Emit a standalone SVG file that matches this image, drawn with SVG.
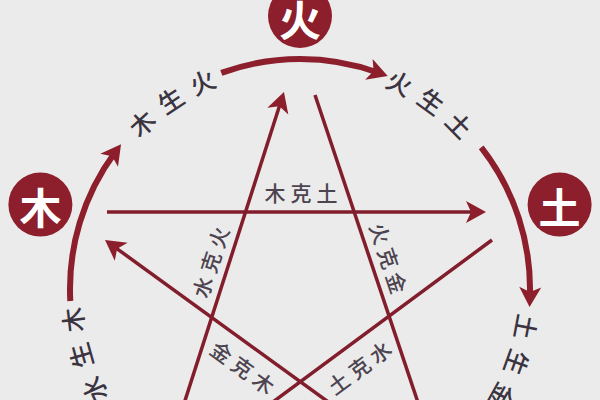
<svg xmlns="http://www.w3.org/2000/svg" width="600" height="400" viewBox="0 0 600 400">
<defs>
<style>
.bg{fill:#ebebeb}
.node circle{fill:#8c1f2b}
.node text{fill:#ffffff;font-family:"Noto Sans CJK SC","Noto Sans",sans-serif;font-size:42px;font-weight:700;text-anchor:middle;dominant-baseline:central}
.arc{fill:none;stroke:#8c1f2b;stroke-width:6}
.star{fill:none;stroke:#821d2c;stroke-width:3.5}
.sl{fill:#4d4450;font-family:"Noto Sans CJK SC","Noto Sans",sans-serif;font-size:21px;font-weight:500;letter-spacing:5px;text-anchor:middle;dominant-baseline:central}
.ol{fill:#3a3340;font-family:"Noto Sans CJK SC","Noto Sans",sans-serif;font-size:25px;font-weight:500;letter-spacing:10px;text-anchor:middle}
</style>
<marker id="ah" markerUnits="userSpaceOnUse" markerWidth="40" markerHeight="40" refX="0" refY="0" orient="auto" overflow="visible" viewBox="-20 -20 40 40">
<path d="M10,0 L-10,-11 L-5,0 L-10,11 Z" fill="#8c1f2b"/>
</marker>
<path id="ring" d="M300,508 A219,219 0 1 1 300,70 A219,219 0 1 1 300,508"/>
</defs>
<rect class="bg" x="0" y="0" width="600" height="400"/>
<g id="connectors">
<path class="arc" d="M70.3,301 A230,230 0 0 1 115.1,152.2" marker-end="url(#ah)"/>
<path class="arc" d="M221.3,72.9 A230,230 0 0 1 378.3,72.7" marker-end="url(#ah)"/>
<path class="arc" d="M481.2,147.4 A230,230 0 0 1 529.9,297" marker-end="url(#ah)"/>
<line class="star" x1="107" y1="212" x2="476" y2="212" marker-end="url(#ah)"/>
<line class="star" x1="182" y1="410" x2="280.9" y2="101.5" marker-end="url(#ah)"/>
<line class="star" x1="315" y1="95" x2="420.5" y2="410"/>
<line class="star" x1="492" y1="240" x2="264.8" y2="408"/>
<line class="star" x1="336.6" y1="408" x2="113.1" y2="245.9" marker-end="url(#ah)"/>
</g>
<g id="labels">
<text class="sl" x="303.5" y="192">木克土</text>
<text class="sl" transform="translate(210,262) rotate(-72)" x="2.5" y="0">水克火</text>
<text class="sl" transform="translate(389,258) rotate(71.5)" x="2.5" y="0">火克金</text>
<text class="sl" transform="translate(359,367) rotate(-36.5)" x="2.5" y="0">土克水</text>
<text class="sl" transform="translate(243,367) rotate(36)" x="2.5" y="0">金克木</text>
<text class="ol"><textPath href="#ring" startOffset="284">水生木</textPath></text>
<text class="ol"><textPath href="#ring" startOffset="561">木生火</textPath></text>
<text class="ol"><textPath href="#ring" startOffset="826">火生土</textPath></text>
<text class="ol"><textPath href="#ring" startOffset="1108">土生金</textPath></text>
</g>
<g id="node-huo" class="node"><circle cx="300" cy="16" r="32"/><text x="300" y="17">火</text></g>
<g id="node-mu" class="node"><circle cx="40.4" cy="204.6" r="32"/><text x="40.4" y="205.6">木</text></g>
<g id="node-tu" class="node"><circle cx="559.6" cy="204.6" r="32"/><text x="559.6" y="205.6">土</text></g>
</svg>
